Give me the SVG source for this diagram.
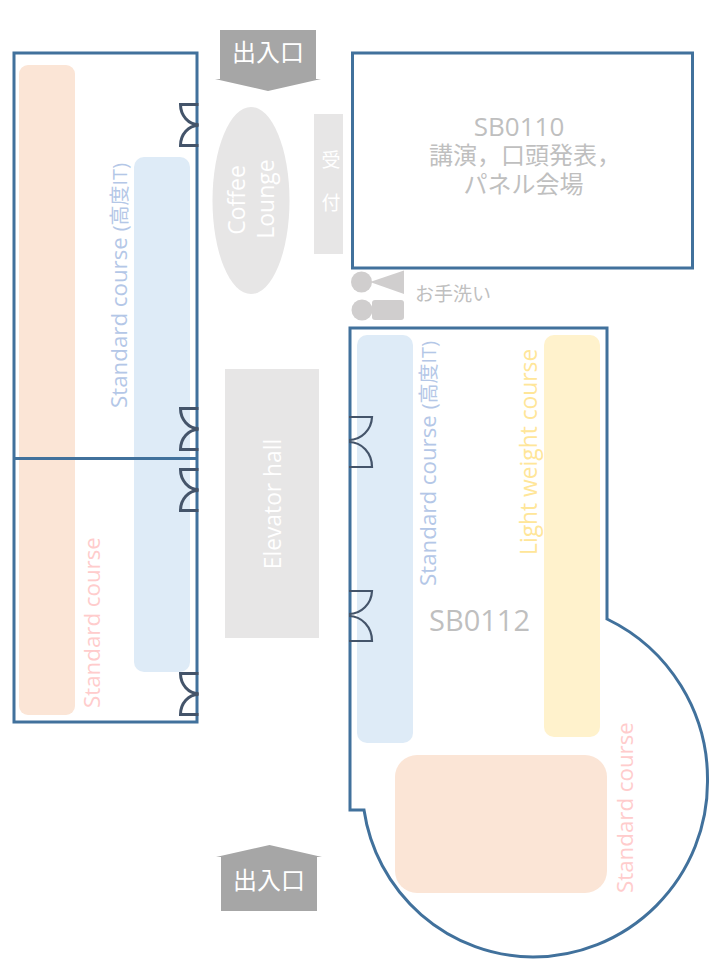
<svg xmlns="http://www.w3.org/2000/svg" width="720" height="960" viewBox="0 0 720 960">
<defs>
<style>
text{font-family:"Open Sans","Noto Sans CJK JP",sans-serif}
.room{fill:none;stroke:#41719C;stroke-width:3}
.door{fill:none;stroke:#44546A;stroke-width:3}
.door2{fill:none;stroke:#44546A;stroke-width:2.2}
.org{fill:#FBE5D6}.blu{fill:#DEEBF7}.yel{fill:#FFF2CC}.lg{fill:#E7E6E6}.arr{fill:#A6A6A6}.wc{fill:#D0CECE}
.w{fill:#fff}.g{fill:#BFBFBF}.tb{fill:#B4C7E7;font-size:22.300px}.ty{fill:#FFE699;font-size:22.800px}.tp{fill:#FFCCCC;font-size:22.300px}
.m{text-anchor:middle}
</style>
<g id="d" class="door"><path d="M18.500,1.500H0.500A18,20 0 0 0 18.500,21.500"/><path d="M18.500,42.500H0.500A18,20 0 0 1 18.500,22.500"/></g>
<g id="d2" class="door2"><path d="M0,1H23A23,24 0 0 1 0,24"/><path d="M0,51H23A23,25 0 0 0 0,26"/></g>
</defs>
<g id="zones">
<rect id="zone-left-standard" class="org" x="19" y="65" width="56" height="650" rx="9"/>
<rect id="zone-left-it" class="blu" x="134" y="157" width="56" height="515" rx="10"/>
<rect id="zone-right-it" class="blu" x="357" y="335" width="56" height="408" rx="10"/>
<rect id="zone-right-light" class="yel" x="544" y="335" width="56" height="402" rx="10"/>
<rect id="zone-right-standard" class="org" x="395" y="755" width="212" height="138" rx="22"/>
</g>
<g id="rooms">
<rect id="room-left" class="room" x="14" y="53" width="183" height="669"/>
<path id="room-left-divider" class="room" d="M14,458.500H197"/>
<rect id="room-sb0110" class="room" x="352.500" y="53" width="340" height="215"/>
<path id="room-sb0112" class="room" d="M350,328H607V619A178,178 0 0 1 707.500,782A175,175 0 0 1 533,957A172,172 0 0 1 364,810H350Z"/>
</g>
<g id="doors">
<use href="#d" x="180" y="103"/>
<use href="#d" x="180" y="407"/>
<use href="#d" x="180" y="468"/>
<use href="#d" x="180" y="672"/>
<use href="#d2" x="349" y="416"/>
<use href="#d2" x="349" y="590"/>
</g>
<g id="entrance-top">
<polygon class="arr" points="220,30 316,30 316,79 321,79 268,91 215,79 220,79"/>
<text class="w m" x="268" y="61" font-size="24">出入口</text>
</g>
<g id="entrance-bottom">
<polygon class="arr" points="221,911 317,911 317,857 322,857 269.500,845 216,857 221,857"/>
<text class="w m" x="269" y="889" font-size="24">出入口</text>
</g>
<g id="coffee-lounge">
<ellipse class="lg" cx="251" cy="200.500" rx="38.500" ry="93.500"/>
<text class="w m" transform="translate(245,200) rotate(-90)" font-size="23">Coffee</text>
<text class="w m" transform="translate(274,199) rotate(-90)" font-size="23">Lounge</text>
</g>
<g id="reception">
<rect class="lg" x="314" y="114" width="29" height="140"/>
<text class="w m" x="331" y="167" font-size="19">受</text>
<text class="w m" x="331" y="210" font-size="19">付</text>
</g>
<g id="elevator-hall">
<rect class="lg" x="225" y="369" width="94" height="269"/>
<text class="w m" transform="translate(281,504) rotate(-90)" font-size="22.800">Elevator hall</text>
</g>
<g id="restroom">
<circle class="wc" cx="361.500" cy="282" r="10.500"/>
<polygon class="wc" points="404,270.500 404,294 370,282"/>
<circle class="wc" cx="362" cy="310" r="10.500"/>
<rect class="wc" x="372" y="300" width="32" height="20" rx="3"/>
<text class="g" x="415" y="301" font-size="19">お手洗い</text>
</g>
<g id="labels">
<text class="g m" x="519" y="136" font-size="26">SB0110</text>
<text class="g m" x="525" y="164" font-size="24">講演，口頭発表，</text>
<text class="g m" x="523.500" y="193" font-size="24">パネル会場</text>
<text class="g" x="429" y="631" font-size="29">SB0112</text>
<text class="tb" transform="translate(127,408) rotate(-90)">Standard course <tspan font-size="20">(高度IT)</tspan></text>
<text class="tp" transform="translate(100,708) rotate(-90)">Standard course</text>
<text class="tb" transform="translate(436,586) rotate(-90)">Standard course <tspan font-size="20">(高度IT)</tspan></text>
<text class="ty" transform="translate(537,555) rotate(-90)">Light weight course</text>
<text class="tp" transform="translate(633,893) rotate(-90)">Standard course</text>
</g>
</svg>
